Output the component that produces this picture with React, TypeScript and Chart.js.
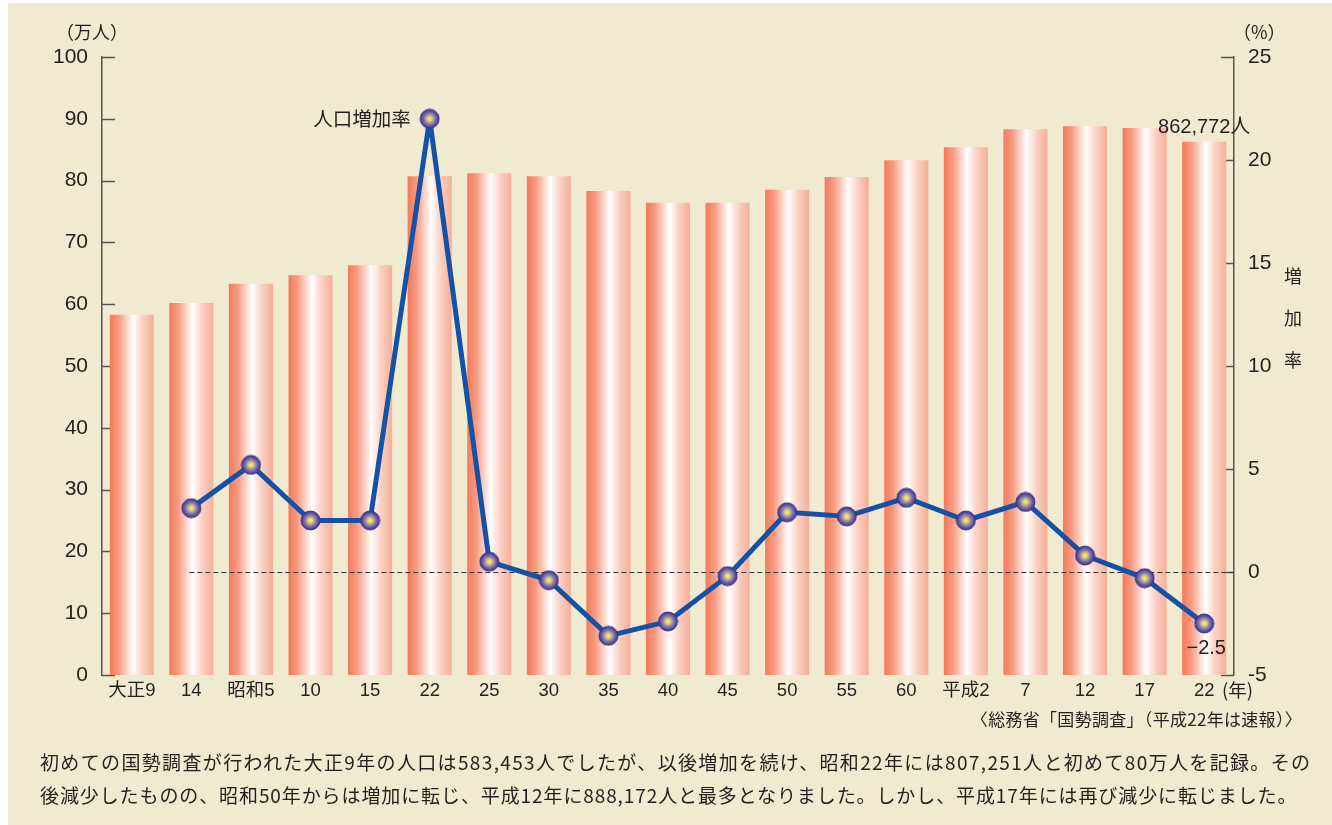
import React, { useEffect, useRef } from "react";
import { Chart, registerables } from "chart.js";

Chart.register(...registerables);

// ---- data ----
const categories = ["大正9", "14", "昭和5", "10", "15", "22", "25", "30", "35", "40", "45", "50", "55", "60", "平成2", "7", "12", "17", "22"];
const population = [58.3, 60.2, 63.3, 64.7, 66.3, 80.7, 81.2, 80.7, 78.3, 76.4, 76.4, 78.5, 80.6, 83.3, 85.4, 88.3, 88.8, 88.5, 86.3];
const growthRate: (number | null)[] = [null, 3.1, 5.2, 2.5, 2.5, 22.0, 0.5, -0.4, -3.1, -2.4, -0.2, 2.9, 2.7, 3.6, 2.5, 3.4, 0.8, -0.3, -2.5];
const leftTicks = [0, 10, 20, 30, 40, 50, 60, 70, 80, 90, 100];
const rightTicks = [-5, 0, 5, 10, 15, 20, 25];

const NUM_FONT = '"Liberation Sans", "Noto Sans CJK JP", sans-serif';
const JP_FONT = '"Noto Sans CJK JP", "Liberation Sans", sans-serif';
const BG = "#F0EAD0";
const TEXT = "#231F1C";
const BAR_PCT = 0.74;

function makePointImage(r: number): HTMLCanvasElement {
  const s = r * 2 + 2;
  const c = document.createElement("canvas");
  c.width = s;
  c.height = s;
  const g = c.getContext("2d")!;
  const cx = s / 2;
  const grad = g.createRadialGradient(cx, cx, 0, cx, cx, r);
  grad.addColorStop(0, "#FFF45A");
  grad.addColorStop(0.22, "#E6D46E");
  grad.addColorStop(0.55, "#8C7FAE");
  grad.addColorStop(0.85, "#544A9C");
  grad.addColorStop(1, "#3A3388");
  g.fillStyle = grad;
  g.beginPath();
  g.arc(cx, cx, r, 0, Math.PI * 2);
  g.fill();
  g.strokeStyle = "#3B3587";
  g.lineWidth = 1;
  g.stroke();
  return c;
}

const inwardTicks = {
  id: "inwardTicks",
  beforeDatasetsDraw(chart: any) {
    const { ctx, chartArea, scales } = chart;
    ctx.save();
    ctx.strokeStyle = "#555";
    ctx.lineWidth = 1.5;
    leftTicks.forEach((v) => {
      const y = Math.round(scales.y.getPixelForValue(v)) + 0.5;
      ctx.beginPath();
      ctx.moveTo(chartArea.left, y);
      ctx.lineTo(chartArea.left + 13, y);
      ctx.stroke();
    });
    rightTicks.forEach((v) => {
      const y = Math.round(scales.y1.getPixelForValue(v)) + 0.5;
      ctx.beginPath();
      ctx.moveTo(chartArea.right - 13, y);
      ctx.lineTo(chartArea.right, y);
      ctx.stroke();
    });
    ctx.restore();
  },
};

const zeroLine = {
  id: "zeroLine",
  afterDatasetDraw(chart: any, args: any) {
    if (args.index !== 0) return;
    const { ctx, chartArea, scales } = chart;
    const y = Math.round(scales.y1.getPixelForValue(0)) + 0.5;
    const x0 = scales.x.getPixelForValue(1) - 2;
    ctx.save();
    ctx.strokeStyle = "#333";
    ctx.lineWidth = 1;
    ctx.setLineDash([5, 3]);
    ctx.beginPath();
    ctx.moveTo(x0, y);
    ctx.lineTo(chartArea.right, y);
    ctx.stroke();
    ctx.restore();
  },
};

const annotations = {
  id: "annotations",
  afterDraw(chart: any) {
    const { ctx, scales } = chart;
    const n = categories.length;
    ctx.save();
    ctx.fillStyle = TEXT;
    ctx.textBaseline = "middle";
    const peakIdx = 5;
    const px = scales.x.getPixelForValue(peakIdx);
    const py = scales.y1.getPixelForValue(growthRate[peakIdx] as number);
    ctx.font = `19.5px ${JP_FONT}`;
    ctx.textAlign = "right";
    ctx.fillText("人口増加率", px - 19, py);
    const lx = scales.x.getPixelForValue(n - 1);
    const ly = scales.y.getPixelForValue(population[n - 1]);
    ctx.font = `20px ${NUM_FONT}`;
    ctx.textAlign = "center";
    ctx.fillText("862,772人", lx, ly - 14);
    const gy = scales.y1.getPixelForValue(growthRate[n - 1] as number);
    ctx.fillText("−2.5", lx + 2, gy + 25);
    ctx.restore();
  },
};

export default function App() {
  const canvasRef = useRef<HTMLCanvasElement | null>(null);

  useEffect(() => {
    const canvas = canvasRef.current;
    if (!canvas) return;
    const pointImg = makePointImage(9.5);

    const barColor = (c: any) => {
      const chart = c.chart;
      const xs = chart.scales && chart.scales.x;
      if (!xs || c.dataIndex == null) return "#F6A68E";
      const cx = xs.getPixelForValue(c.dataIndex);
      const w = (xs.width / categories.length) * BAR_PCT;
      if (!isFinite(cx) || !isFinite(w) || w <= 0) return "#F6A68E";
      const g = chart.ctx.createLinearGradient(cx - w / 2, 0, cx + w / 2, 0);
      g.addColorStop(0, "#F47A5B");
      g.addColorStop(0.2, "#F69A80");
      g.addColorStop(0.53, "#FFFFFF");
      g.addColorStop(0.75, "#FAD0C2");
      g.addColorStop(1, "#F6AE98");
      return g;
    };

    const chart = new Chart(canvas, {
      type: "bar",
      data: {
        labels: categories,
        datasets: [
          {
            type: "bar",
            label: "人口",
            data: population,
            yAxisID: "y",
            backgroundColor: barColor,
            borderWidth: 0,
            barPercentage: BAR_PCT,
            categoryPercentage: 1,
            order: 2,
          } as any,
          {
            type: "line",
            label: "人口増加率",
            data: growthRate,
            yAxisID: "y1",
            borderColor: "#1551A6",
            borderWidth: 5,
            borderJoinStyle: "round",
            borderCapStyle: "round",
            pointStyle: pointImg,
            pointRadius: 9.5,
            spanGaps: false,
            tension: 0,
            order: 1,
          } as any,
        ],
      },
      options: {
        animation: false,
        responsive: false,
        maintainAspectRatio: false,
        layout: { padding: { top: 57, bottom: 110, left: 0, right: 0 } },
        plugins: { legend: { display: false }, tooltip: { enabled: false } },
        scales: {
          x: {
            grid: { display: false, drawTicks: false },
            border: { display: false },
            ticks: {
              color: TEXT,
              font: { size: 18.5, family: NUM_FONT },
              padding: 5,
              maxRotation: 0,
              autoSkip: false,
            },
            afterFit: (s: any) => {
              s.height = 40;
            },
          },
          y: {
            position: "left",
            min: 0,
            max: 100,
            afterBuildTicks: (s: any) => {
              s.ticks = leftTicks.map((v) => ({ value: v }));
            },
            ticks: { color: TEXT, font: { size: 21, family: NUM_FONT }, padding: 14 },
            grid: { display: false, drawTicks: false },
            border: { display: true, color: "#555", width: 1.5 },
            afterFit: (s: any) => {
              s.width = 102;
            },
          },
          y1: {
            position: "right",
            min: -5,
            max: 25,
            afterBuildTicks: (s: any) => {
              s.ticks = rightTicks.map((v) => ({ value: v }));
            },
            ticks: { color: TEXT, font: { size: 21, family: NUM_FONT }, padding: 14 },
            grid: { display: false, drawTicks: false },
            border: { display: true, color: "#555", width: 1.5 },
            afterFit: (s: any) => {
              s.width = 98;
            },
          },
        },
      } as any,
      plugins: [inwardTicks, zeroLine, annotations],
    });
    chart.update("none");
    return () => chart.destroy();
  }, []);

  const abs = (extra: React.CSSProperties): React.CSSProperties => ({
    position: "absolute",
    whiteSpace: "nowrap",
    color: TEXT,
    fontFamily: JP_FONT,
    lineHeight: 1,
    ...extra,
  });

  return (
    <div style={{ position: "absolute", left: 0, top: 0, width: 1332, height: 825, background: "#FFFFFF", overflow: "hidden" }}>
      <div style={{ position: "absolute", left: 8, top: 3, right: 0, bottom: 0, background: BG }} />
      <canvas ref={canvasRef} width={1332} height={825} style={{ position: "absolute", left: 0, top: 0, width: 1332, height: 825 }} />
      <div style={abs({ left: 56, top: 22, fontSize: 18 })}>（万人）</div>
      <div style={abs({ left: 1233, top: 22, fontSize: 18 })}>（%）</div>
      <div style={abs({ left: 1284, top: 254, fontSize: 18, lineHeight: "42px", width: 20, whiteSpace: "normal" })}>
        増<br />加<br />率
      </div>
      <div style={abs({ left: 1222, top: 680, fontSize: 18.5 })}>(年)</div>
      <div style={abs({ right: 30, top: 710, fontSize: 17, letterSpacing: "0.3px" })}>〈総務省「国勢調査」（平成22年は速報）〉</div>
      <div style={abs({ left: 40, top: 752, fontSize: 19, letterSpacing: "1.35px" })}>
        初めての国勢調査が行われた大正9年の人口は583,453人でしたが、以後増加を続け、昭和22年には807,251人と初めて80万人を記録。その
      </div>
      <div style={abs({ left: 40, top: 785, fontSize: 19, letterSpacing: "0.9px" })}>
        後減少したものの、昭和50年からは増加に転じ、平成12年に888,172人と最多となりました。しかし、平成17年には再び減少に転じました。
      </div>
    </div>
  );
}
